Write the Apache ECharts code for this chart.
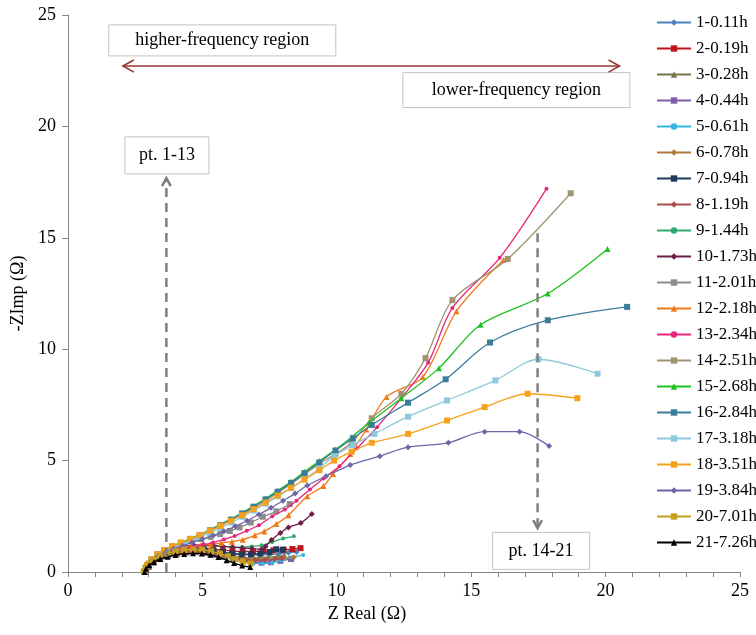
<!DOCTYPE html>
<html>
<head>
<meta charset="utf-8">
<script src="https://cdn.jsdelivr.net/npm/echarts@6/dist/echarts.min.js"></script>
<style>
  html, body { margin: 0; padding: 0; background: #fff; }
  #chart { width: 756px; height: 635px; }
</style>
</head>
<body>
<div id="chart"></div>
<script>
// legend names and styles
const names = ['1-0.11h', '2-0.19h', '3-0.28h', '4-0.44h', '5-0.61h', '6-0.78h', '7-0.94h',
  '8-1.19h', '9-1.44h', '10-1.73h', '11-2.01h', '12-2.18h', '13-2.34h', '14-2.51h',
  '15-2.68h', '16-2.84h', '17-3.18h', '18-3.51h', '19-3.84h', '20-7.01h', '21-7.26h'];
const colors = ['#4f81bd', '#c0141c', '#76764a', '#7f5fa8', '#33b7e0', '#b0793e', '#1f3b5c',
  '#a4504b', '#2eaa6e', '#6e1f47', '#8c8c8c', '#ef7a1a', '#e8247c', '#a09470',
  '#1fc01f', '#3a7d99', '#8dc8dc', '#f6a11c', '#6e66a8', '#c5a020', '#000000'];
const symbols = ['diamond', 'rect', 'triangle', 'rect', 'circle', 'diamond', 'rect',
  'diamond', 'circle', 'diamond', 'rect', 'triangle', 'circle', 'rect',
  'triangle', 'rect', 'rect', 'rect', 'diamond', 'rect', 'triangle'];

// Z Real / -ZImp values (ohm), one array per measurement
const s1 = [[2.88,0.03],[2.98,0.25],[3.15,0.45],[3.4,0.62],[3.7,0.78],[4.0,0.9],[4.35,0.98],[4.7,1.02],[5.05,1.0],[5.4,0.95],[5.75,0.88],[6.1,0.82],[6.45,0.78],[6.8,0.76],[7.15,0.76],[7.5,0.78],[7.85,0.82],[8.2,0.86],[8.5,0.9]];
const s2 = [[2.87,0.03],[2.97,0.27],[3.14,0.48],[3.38,0.66],[3.66,0.82],[3.98,0.95],[4.32,1.03],[4.68,1.08],[5.04,1.07],[5.4,1.03],[5.76,0.98],[6.12,0.94],[6.5,0.92],[6.88,0.92],[7.26,0.94],[7.64,0.97],[8.02,1.0],[8.35,1.03],[8.65,1.07]];
const s3 = [[2.9,0.03],[3.0,0.24],[3.18,0.44],[3.42,0.6],[3.72,0.74],[4.04,0.85],[4.38,0.92],[4.72,0.95],[5.06,0.93],[5.4,0.88],[5.74,0.8],[6.08,0.72],[6.42,0.66],[6.76,0.63],[7.1,0.63],[7.44,0.66],[7.78,0.7],[8.05,0.75]];
const s4 = [[2.88,0.02],[2.99,0.22],[3.17,0.42],[3.42,0.58],[3.72,0.72],[4.05,0.82],[4.4,0.88],[4.75,0.9],[5.1,0.86],[5.45,0.78],[5.8,0.68],[6.15,0.58],[6.5,0.5],[6.85,0.44],[7.2,0.42],[7.55,0.44],[7.9,0.5],[8.3,0.58]];
const s5 = [[2.9,0.03],[3.01,0.23],[3.2,0.43],[3.45,0.59],[3.76,0.72],[4.1,0.82],[4.45,0.88],[4.8,0.89],[5.15,0.85],[5.5,0.77],[5.85,0.66],[6.2,0.55],[6.55,0.46],[6.9,0.4],[7.25,0.38],[7.6,0.42],[7.95,0.52],[8.3,0.66],[8.75,0.76]];
const s6 = [[2.89,0.02],[3.0,0.23],[3.18,0.43],[3.43,0.6],[3.74,0.74],[4.07,0.85],[4.42,0.92],[4.78,0.94],[5.14,0.91],[5.5,0.84],[5.86,0.75],[6.22,0.66],[6.58,0.6],[6.94,0.57],[7.3,0.57],[7.66,0.6],[8.02,0.63],[8.4,0.66]];
const s7 = [[2.88,0.03],[2.98,0.26],[3.16,0.47],[3.4,0.64],[3.7,0.79],[4.02,0.91],[4.36,0.99],[4.71,1.03],[5.06,1.01],[5.41,0.96],[5.76,0.89],[6.11,0.83],[6.46,0.8],[6.81,0.8],[7.16,0.83],[7.5,0.9],[7.75,1.02],[8.0,1.0]];
const s8 = [[2.9,0.02],[3.02,0.22],[3.2,0.41],[3.45,0.57],[3.76,0.7],[4.1,0.8],[4.46,0.86],[4.82,0.87],[5.18,0.83],[5.54,0.75],[5.9,0.66],[6.26,0.58],[6.62,0.53],[6.98,0.52],[7.34,0.54],[7.7,0.58],[7.95,0.62]];
const s9 = [[2.87,0.03],[2.97,0.28],[3.14,0.5],[3.38,0.69],[3.66,0.86],[3.98,1.0],[4.32,1.1],[4.68,1.16],[5.04,1.18],[5.4,1.17],[5.76,1.14],[6.12,1.12],[6.48,1.12],[6.84,1.15],[7.2,1.2],[7.6,1.35],[8.0,1.5],[8.4,1.6]];
const s10 = [[2.87,0.03],[2.97,0.28],[3.14,0.5],[3.38,0.7],[3.66,0.88],[3.98,1.03],[4.32,1.14],[4.68,1.2],[5.04,1.22],[5.4,1.2],[5.76,1.16],[6.12,1.12],[6.48,1.08],[6.84,1.05],[7.2,1.02],[7.35,1.15],[7.57,1.44],[7.9,1.75],[8.2,2.0],[8.66,2.2],[9.07,2.6]];
const s11 = [[2.86,0.03],[2.96,0.3],[3.12,0.54],[3.35,0.76],[3.62,0.96],[3.92,1.12],[4.24,1.26],[4.58,1.38],[4.94,1.48],[5.3,1.58],[5.66,1.7],[6.02,1.84],[6.38,2.0],[6.8,2.22],[7.25,2.48],[7.75,2.72],[8.25,3.05]];
const s12 = [[2.86,0.03],[2.96,0.3],[3.12,0.54],[3.35,0.74],[3.62,0.9],[3.92,1.02],[4.24,1.1],[4.58,1.16],[4.94,1.2],[5.3,1.25],[5.7,1.3],[6.1,1.36],[6.5,1.45],[6.95,1.65],[7.3,1.82],[7.75,2.15],[8.2,2.55],[8.9,3.4],[9.5,3.86],[9.86,4.4],[10.5,5.3],[11.1,6.4],[11.85,7.86],[13.2,8.75],[14.45,11.7],[16.2,14.0]];
const s13 = [[2.86,0.03],[2.96,0.28],[3.13,0.5],[3.37,0.68],[3.65,0.83],[3.96,0.95],[4.3,1.05],[4.66,1.14],[5.02,1.22],[5.4,1.32],[5.8,1.46],[6.2,1.62],[6.65,1.85],[7.1,2.1],[7.6,2.5],[8.07,2.8],[8.5,3.2],[9.0,3.7],[9.5,4.2],[10.1,4.75],[10.75,5.55],[11.5,6.5],[12.4,7.8],[13.4,9.4],[14.3,11.85],[16.06,14.1],[17.8,17.2]];
const s14 = [[2.85,0.03],[2.94,0.3],[3.1,0.55],[3.32,0.77],[3.58,0.95],[3.88,1.12],[4.2,1.28],[4.55,1.45],[4.9,1.63],[5.28,1.84],[5.66,2.06],[6.06,2.3],[6.48,2.58],[6.9,2.88],[7.35,3.2],[7.8,3.55],[8.3,3.95],[8.8,4.38],[9.35,4.85],[9.95,5.3],[10.55,5.8],[11.3,6.9],[12.4,8.0],[13.3,9.6],[14.3,12.2],[16.36,14.05],[18.7,17.0]];
const s15 = [[2.85,0.03],[2.94,0.31],[3.1,0.57],[3.32,0.8],[3.58,0.99],[3.88,1.16],[4.2,1.32],[4.55,1.5],[4.9,1.68],[5.28,1.9],[5.66,2.13],[6.06,2.38],[6.48,2.66],[6.9,2.96],[7.35,3.3],[7.8,3.65],[8.3,4.05],[8.8,4.5],[9.35,4.98],[9.95,5.5],[10.55,6.05],[11.2,6.7],[12.4,7.8],[13.8,9.15],[15.35,11.1],[17.85,12.5],[20.07,14.5]];
const s16 = [[2.85,0.03],[2.94,0.3],[3.1,0.56],[3.32,0.79],[3.58,0.98],[3.88,1.15],[4.2,1.31],[4.55,1.48],[4.9,1.66],[5.28,1.87],[5.66,2.1],[6.06,2.35],[6.48,2.63],[6.9,2.93],[7.35,3.26],[7.8,3.6],[8.3,4.0],[8.8,4.44],[9.35,4.92],[9.95,5.45],[10.6,6.0],[11.3,6.6],[12.65,7.6],[14.05,8.65],[15.7,10.3],[17.85,11.3],[20.8,11.9]];
const s17 = [[2.86,0.03],[2.95,0.29],[3.11,0.54],[3.33,0.76],[3.6,0.94],[3.9,1.1],[4.22,1.25],[4.57,1.41],[4.93,1.58],[5.3,1.77],[5.68,1.98],[6.08,2.22],[6.5,2.48],[6.92,2.76],[7.36,3.07],[7.82,3.4],[8.3,3.76],[8.8,4.16],[9.35,4.65],[9.9,5.2],[10.6,5.7],[11.4,6.2],[12.65,6.97],[14.1,7.7],[15.9,8.6],[17.5,9.55],[19.7,8.9]];
const s18 = [[2.85,0.03],[2.94,0.31],[3.1,0.57],[3.32,0.8],[3.58,0.99],[3.88,1.16],[4.2,1.32],[4.55,1.49],[4.9,1.66],[5.28,1.86],[5.66,2.07],[6.06,2.3],[6.48,2.55],[6.9,2.82],[7.35,3.12],[7.8,3.43],[8.3,3.78],[8.8,4.15],[9.35,4.57],[9.9,5.0],[10.55,5.4],[11.3,5.8],[12.65,6.2],[14.1,6.8],[15.5,7.4],[17.1,8.0],[18.95,7.8]];
const s19 = [[2.86,0.03],[2.96,0.28],[3.12,0.52],[3.35,0.72],[3.62,0.89],[3.93,1.04],[4.26,1.18],[4.62,1.32],[5.0,1.47],[5.4,1.64],[5.8,1.83],[6.22,2.05],[6.66,2.3],[7.1,2.58],[7.55,2.88],[8.0,3.2],[8.45,3.52],[8.9,3.88],[9.6,4.3],[10.5,4.8],[11.6,5.2],[12.65,5.6],[14.15,5.8],[15.5,6.3],[16.8,6.3],[17.9,5.65]];
const s20 = [[2.82,0.02],[2.88,0.2],[3.0,0.38],[3.18,0.55],[3.42,0.7],[3.7,0.83],[4.0,0.93],[4.33,0.99],[4.67,1.01],[5.0,0.99],[5.33,0.93],[5.65,0.83],[5.95,0.7],[6.22,0.57],[6.5,0.46],[6.8,0.38]];
const s21 = [[2.85,0.0],[2.9,0.15],[3.02,0.3],[3.2,0.45],[3.43,0.58],[3.7,0.68],[4.0,0.76],[4.32,0.81],[4.65,0.84],[4.98,0.83],[5.3,0.77],[5.6,0.67],[5.9,0.53],[6.18,0.4],[6.48,0.29],[6.78,0.22]];

const seriesData = [s1, s2, s3, s4, s5, s6, s7, s8, s9, s10, s11, s12, s13, s14, s15, s16, s17, s18, s19, s20, s21];
const xTicks = [0, 5, 10, 15, 20, 25];
const yTicks = [0, 5, 10, 15, 20, 25];

const serif = '"Liberation Serif", "Times New Roman", serif';
const axisColor = '#868686';

const chart = echarts.init(document.getElementById('chart'));

const series = seriesData.map((d, i) => ({
  name: names[i],
  type: 'line',
  data: d,
  smooth: 0.3,
  symbol: symbols[i],
  symbolSize: symbols[i] === 'circle' ? 4 : 6,
  showSymbol: true,
  color: colors[i],
  lineStyle: { width: 1.3, color: colors[i] },
  itemStyle: { color: colors[i] },
  emphasis: { disabled: true },
  z: 2 + i * 0.01,
}));

chart.setOption({
  animation: false,
  backgroundColor: '#fff',
  grid: { left: 68, right: 16, top: 15, bottom: 63 },
  legend: {
    orient: 'vertical',
    left: 651,
    top: 9,
    itemWidth: 34,
    itemHeight: 8,
    itemGap: 9,
    textStyle: { fontFamily: serif, fontSize: 17, color: '#000' },
    data: names,
  },
  xAxis: {
    type: 'value',
    min: 0,
    max: 25,
    interval: 5,
    name: 'Z Real (Ω)',
    nameLocation: 'middle',
    nameGap: 32,
    nameTextStyle: { fontFamily: serif, fontSize: 18, color: '#000', padding: [0, 74, 0, 0] },
    axisLine: { lineStyle: { color: axisColor } },
    axisTick: { show: true, inside: false, length: 5, lineStyle: { color: axisColor } },
    minorTick: { show: true, splitNumber: 5, length: 5, lineStyle: { color: axisColor } },
    axisLabel: { fontFamily: serif, fontSize: 18, color: '#000', margin: 10,
      formatter: v => (xTicks.includes(v) ? String(v) : '') },
    splitLine: { show: false },
  },
  yAxis: {
    type: 'value',
    min: 0,
    max: 25,
    interval: 5,
    name: '-ZImp (Ω)',
    nameLocation: 'middle',
    nameGap: 41,
    nameTextStyle: { fontFamily: serif, fontSize: 18, color: '#000' },
    axisLine: { show: true, lineStyle: { color: axisColor } },
    axisTick: { show: true, inside: false, length: 6, lineStyle: { color: axisColor } },
    axisLabel: { fontFamily: serif, fontSize: 18, color: '#000', margin: 12,
      formatter: v => (yTicks.includes(v) ? String(v) : '') },
    splitLine: { show: false },
  },
  series: series,
});

// annotations, placed in data units
const px = p => chart.convertToPixel({ xAxisIndex: 0, yAxisIndex: 0 }, p);

function box(center, w, h, text) {
  const c = px(center);
  return [
    { type: 'rect', z: 100, shape: { x: c[0] - w / 2, y: c[1] - h / 2, width: w, height: h },
      style: { fill: '#fff', stroke: '#c4c4c4', lineWidth: 1 } },
    { type: 'text', z: 101, style: { text: text, x: c[0], y: c[1], align: 'center', verticalAlign: 'middle',
      font: '18px ' + serif, fill: '#000' } },
  ];
}

function chevron(tip, dx, dy, size, color, width) {
  // open arrow head pointing along (dx, dy)
  const len = Math.hypot(dx, dy);
  const ux = dx / len, uy = dy / len;
  const bx = tip[0] - ux * size, by = tip[1] - uy * size;
  const nx = -uy * size * 0.55, ny = ux * size * 0.55;
  return { type: 'polyline', z: 100, shape: { points: [[bx + nx, by + ny], tip, [bx - nx, by - ny]] },
    style: { stroke: color, lineWidth: width, fill: null } };
}

const arrowL = px([2.04, 22.71]);
const arrowR = px([20.52, 22.71]);
const dash1Bot = px([3.66, 0]);
const dash1Top = px([3.66, 17.68]);
const dash2Top = px([17.47, 15.2]);
const dash2Bot = px([17.47, 1.97]);
const red = '#953735';
const grey = '#7f7f7f';

const graphics = [
  ...box([5.74, 23.86], 227, 31, 'higher-frequency region'),
  ...box([16.68, 21.63], 227, 35, 'lower-frequency region'),
  ...box([3.68, 18.7], 84, 37, 'pt. 1-13'),
  ...box([17.6, 0.95], 97, 37, 'pt. 14-21'),
  { type: 'line', z: 100, shape: { x1: arrowL[0], y1: arrowL[1], x2: arrowR[0], y2: arrowR[1] },
    style: { stroke: red, lineWidth: 1.5 } },
  chevron(arrowL, -1, 0, 11, red, 1.5),
  chevron(arrowR, 1, 0, 11, red, 1.5),
  { type: 'line', z: 100, shape: { x1: dash1Bot[0], y1: dash1Bot[1], x2: dash1Top[0], y2: dash1Top[1] + 2 },
    style: { stroke: grey, lineWidth: 2.5, lineDash: [9, 6] } },
  chevron(dash1Top, 0, -1, 8, grey, 2.5),
  { type: 'line', z: 100, shape: { x1: dash2Top[0], y1: dash2Top[1], x2: dash2Bot[0], y2: dash2Bot[1] - 2 },
    style: { stroke: grey, lineWidth: 2.5, lineDash: [9, 6] } },
  chevron(dash2Bot, 0, 1, 8, grey, 2.5),
];

chart.setOption({ graphic: graphics });
</script>
</body>
</html>
